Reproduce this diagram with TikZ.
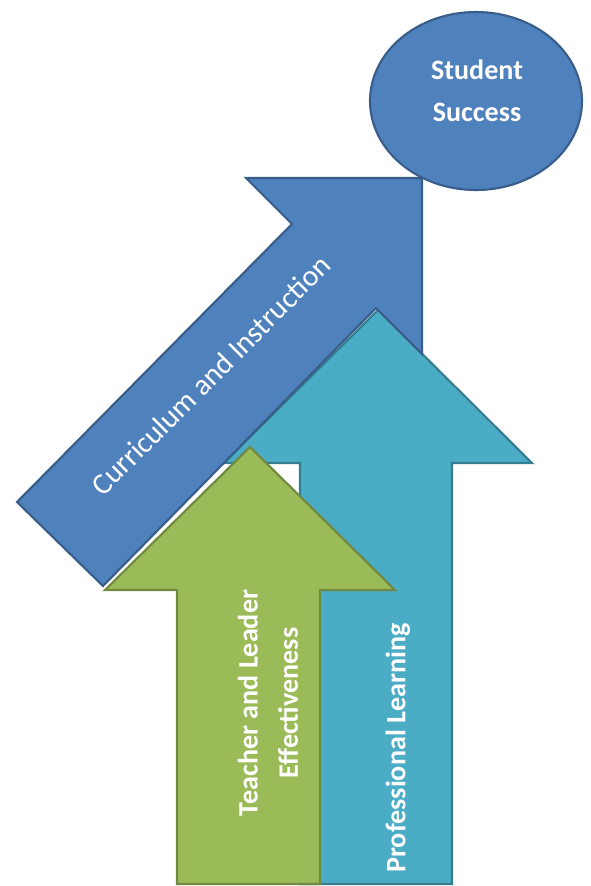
\documentclass[tikz,border=0pt]{standalone}
\usepackage{fontspec}
\setmainfont{Carlito}
\definecolor{ciblue}{HTML}{4F81BD}
\definecolor{ciblueline}{HTML}{385D8A}
\definecolor{plteal}{HTML}{4BACC6}
\definecolor{pltealline}{HTML}{357D91}
\definecolor{tlgreen}{HTML}{9BBB59}
\definecolor{tlgreenline}{HTML}{71893F}
\begin{document}
\begin{tikzpicture}[x=0.02cm,y=-0.02cm,line width=1.2pt,line join=miter,
  bluebox/.style={fill=ciblue,draw=ciblueline},
  tealbox/.style={fill=plteal,draw=pltealline},
  greenbox/.style={fill=tlgreen,draw=tlgreenline},
  lbl/.style={text=white,inner sep=0pt,align=center}]
\useasboundingbox (0,0) rectangle (591,886);
\draw[tealbox] (378,310) -- (532,463) -- (452,463) -- (452,884) -- (300,884) -- (300,463) -- (224,463) -- cycle;
\draw[greenbox] (250,447) -- (395,590) -- (320,590) -- (320,884) -- (177,884) -- (177,590) -- (105,590) -- cycle;
\draw[bluebox] (17,502) -- (292,224) -- (246,178) -- (422,178) -- (422,354) -- (376,308) -- (103,586) -- cycle;
\draw[bluebox] (476,101) ellipse (106 and 89);
\node[lbl,font=\fontsize{16}{24}\selectfont\bfseries] (success) at (477,91) {Student\\Success};
\node[lbl,rotate=45,font=\fontsize{17}{20}\selectfont] (curric) at (211,375) {Curriculum and Instruction};
\node[lbl,rotate=90,font=\fontsize{16}{23}\selectfont\bfseries] (teacher) at (268,703) {Teacher and Leader\\Effectiveness};
\node[lbl,rotate=90,font=\fontsize{16}{20}\selectfont\bfseries] (proflearn) at (398,748) {Professional Learning};
\end{tikzpicture}
\end{document}
